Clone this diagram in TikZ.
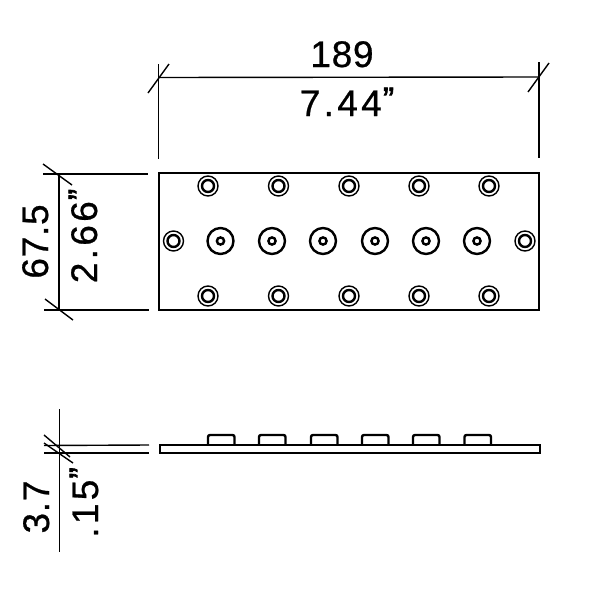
\documentclass[tikz,border=0pt]{standalone}
\usepackage{fontspec}
\setmainfont{Liberation Sans}
\newfontfamily\dimfont[FakeBold=0.7,LetterSpace=2]{Liberation Sans}
\newfontfamily\inchfont[FakeBold=0.7,LetterSpace=9]{Liberation Sans}
\newfontfamily\quotefont[FakeBold=2]{Liberation Sans}
\newcommand{\inchmark}{\kern1pt\raisebox{5pt}{\fontsize{34}{34}\quotefont ”}}
\tikzset{thin line/.style={line width=1.4pt},
thick line/.style={line width=2.4pt},
dim label/.style={inner sep=0pt,anchor=base,font=\fontsize{37}{37}\dimfont},
inch label/.style={inner sep=0pt,anchor=base,font=\fontsize{37}{37}\inchfont},
}

\begin{document}
\begin{tikzpicture}[x=1pt,y=-1pt]
\useasboundingbox (0,0) rectangle (600,600);

% top view
\draw[thick line] (159,173) rectangle (539,310);
\foreach \x in {208,278.5,349,419,489}
\foreach \y in {186,296}
{
\draw[thin line] (\x,\y) circle (10);
\draw[thick line] (\x,\y) circle (6);
}
\foreach \x in {173.5,525}
{
\draw[thin line] (\x,241) circle (10);
\draw[thick line] (\x,241) circle (6);
}
\foreach \x in {220.5,272,323,375,426,477}
{
\draw[thick line] (\x,241) circle (13);
\draw[thick line] (\x,241) circle (3.6);
}

% side view
\draw[thick line] (160,445) rectangle (540,453);
\foreach \x in {208,259,311,362,413,464.5}
\draw[thick line,rounded corners=2pt] (\x,445) -- (\x,435) -- (\x+26.5,435) -- (\x+26.5,445);

% dimension 189
\draw[thin line] (158.5,64) -- (158.5,159);
\draw[thin line] (539,62) -- (539,158);
\draw[thin line] (158.5,77.5) -- (539,77);
\draw[thin line] (148,93) -- (169,64);
\draw[thin line] (528,92) -- (549,63);
\node[dim label] (width mm) at (342,67) {189};
\node[inch label] (width in) at (347,116) {7.44\inchmark};

% dimension 67.5
\draw[thin line] (43,174) -- (148,174);
\draw[thin line] (44,310) -- (149,310);
\draw[thin line] (59,175) -- (59,310);
\draw[thin line] (43,164) -- (72,185);
\draw[thin line] (45,299) -- (73,320);
\node[dim label,rotate=90] (height mm) at (48,241.5) {67.5};
\node[inch label,rotate=90] (height in) at (97,236) {2.66\inchmark};

% dimension 3.7
\draw[thin line] (44,445.5) -- (149,445);
\draw[thin line] (44,453) -- (149,453);
\draw[thin line] (59.5,409) -- (59.5,552);
\draw[thin line] (44,435) -- (70,457);
\draw[thin line] (44,443) -- (73,463);
\node[dim label,rotate=90] (thick mm) at (49,507) {3.7};
\node[inch label,rotate=90] (thick in) at (98,502.5) {.15\inchmark};
\end{tikzpicture}
\end{document}
